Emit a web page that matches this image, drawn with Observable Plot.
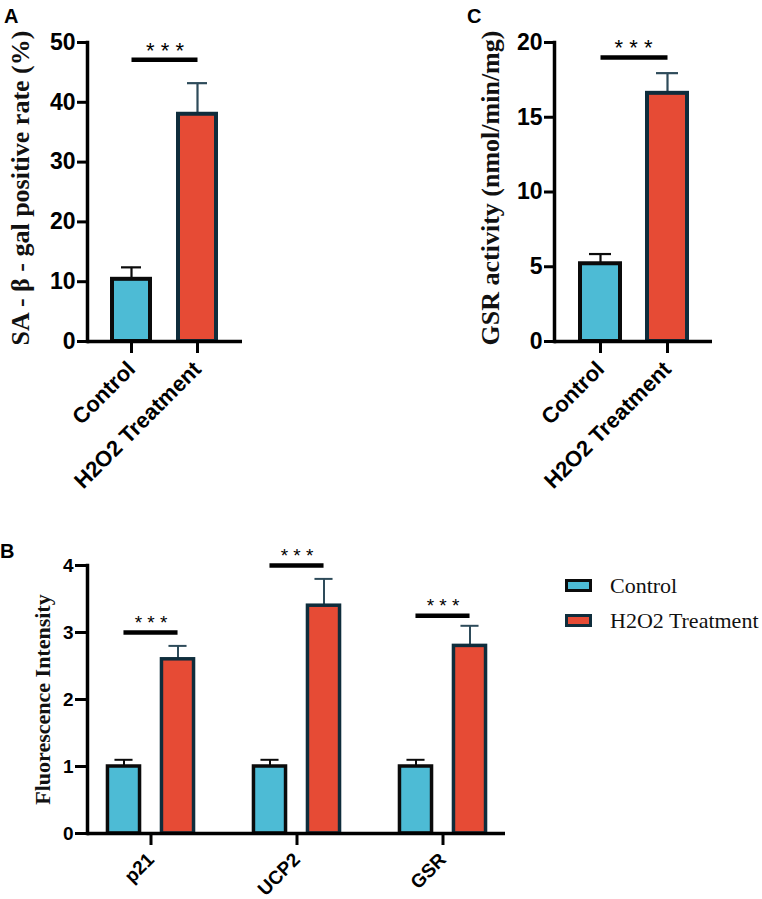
<!DOCTYPE html>
<html>
<head>
<meta charset="utf-8">
<script src="https://cdn.jsdelivr.net/npm/d3@7"></script>
<script src="https://cdn.jsdelivr.net/npm/@observablehq/plot@0.6"></script>
<style>
  body { margin: 0; background: #ffffff; }
  #fig { position: relative; width: 762px; height: 899px; overflow: hidden; background: #ffffff;
         font-family: "Liberation Sans", Arial, sans-serif; }
  .panel { position: absolute; }
  .panel svg { display: block; }
  #panelA { left: 0px; top: 0px; width: 260px; height: 505px; }
  #panelC { left: 440px; top: 0px; width: 300px; height: 505px; }
  #panelB { left: 0px; top: 505px; width: 540px; height: 394px; }
  .letter { position: absolute; font-weight: bold; font-size: 20px; line-height: 1; color: #000; }
  .legend { position: absolute; left: 565px; top: 568px; font-family: "Liberation Serif", "Times New Roman", serif;
            font-size: 22px; color: #111; }
  .legend .item { display: flex; align-items: center; height: 35px; }
  .legend .sw { width: 21px; height: 7px; border-style: solid; border-width: 3.5px; margin-right: 18px; }
</style>
</head>
<body>
<div id="fig">
  <div class="panel" id="panelA"></div>
  <div class="panel" id="panelC"></div>
  <div class="panel" id="panelB"></div>
  <div class="legend" id="legend"></div>
  <div class="letter" style="left:4px;top:6px;">A</div>
  <div class="letter" style="left:467px;top:6px;">C</div>
  <div class="letter" style="left:0px;top:541px;">B</div>
</div>
<script>
// ---- data ----------------------------------------------------------------
const groups = ["Control", "H2O2 Treatment"];

// A: SA-β-gal positive rate (%)
const saGalMean = [10.4, 38.0];
const saGalSd = [2.0, 5.2];
const saGalSig = 47.1;
const saGalTicks = [0, 10, 20, 30, 40, 50];

// C: GSR activity (nmol/min/mg)
const gsrMean = [5.2, 16.6];
const gsrSd = [0.65, 1.35];
const gsrSig = 19.0;
const gsrTicks = [0, 5, 10, 15, 20];

// B: relative fluorescence intensity per marker
const genes = ["p21", "UCP2", "GSR"];
const fluorControl = [1.0, 1.0, 1.0];
const fluorControlSd = [0.1, 0.1, 0.1];
const fluorH2O2 = [2.6, 3.4, 2.8];
const fluorH2O2Sd = [0.2, 0.4, 0.3];
const fluorSig = [3.0, 4.0, 3.25];
const fluorTicks = [0, 1, 2, 3, 4];

const sigLabel = "* * *";

// ---- styling -------------------------------------------------------------
const fills = ["#4DBBD5", "#E64B35"];
const outlines = ["#0b0b0b", "#0f2d3c"];
const whiskers = ["#0b0b0b", "#2e4b5a"];
const sans = "'Liberation Sans', Arial, sans-serif";
const serif = "'Liberation Serif', 'Times New Roman', serif";
const intFormat = d3.format("d");

function rowsFor(means, sds) {
  return groups.map((g, i) => ({group: g, k: i, mean: means[i], top: means[i] + sds[i]}));
}

// Two-bar panel (A and C)
function twoBarPanel({means, sds, sig, ticks, title, marginLeft, marginRight, width, titleDx, paddingInner, paddingOuter}) {
  const rows = rowsFor(means, sds);
  const sigRows = groups.map(g => ({group: g, y: sig}));
  return Plot.plot({
    width, height: 505,
    marginLeft, marginRight, marginTop: 42, marginBottom: 164,
    style: {fontFamily: sans, fontWeight: "bold", fontSize: "23px", color: "#000", background: "transparent"},
    x: {domain: groups, paddingInner, paddingOuter, label: null},
    y: {domain: [ticks[0], ticks[ticks.length - 1]], label: null},
    color: {type: "identity"},
    marks: [
      Plot.ruleX(rows, {x: "group", y1: "mean", y2: "top", stroke: d => whiskers[d.k], strokeWidth: 2.2}),
      Plot.tickY(rows, {x: "group", y: "top", stroke: d => whiskers[d.k], strokeWidth: 2.2, inset: 9}),
      Plot.barY(rows, {x: "group", y: "mean", fill: d => fills[d.k], stroke: d => outlines[d.k], strokeWidth: 4}),
      Plot.ruleY([0], {stroke: "#000", strokeWidth: 3.5}),
      Plot.frame({anchor: "left", stroke: "#000", strokeWidth: 3.5}),
      Plot.axisY({ticks, tickFormat: intFormat, tickSize: 10, tickPadding: 2, stroke: "#000", strokeWidth: 3, fontSize: 23, label: null}),
      Plot.axisX({tickSize: 12, tickPadding: 12, tickRotate: -45, stroke: "#000", strokeWidth: 3, fontSize: 22, label: null}),
      Plot.line(sigRows, {x: "group", y: "y", stroke: "#000", strokeWidth: 4.5, strokeLinecap: "butt"}),
      Plot.text([sig], {y: d => d, text: () => sigLabel, frameAnchor: "middle", dy: -9,
                        fontSize: 22, fontWeight: "normal", fill: "#000"}),
      Plot.text([title], {frameAnchor: "left", textAnchor: "middle", rotate: -90, dx: titleDx, dy: -4,
                          fontFamily: serif, fontWeight: "bold", fontSize: 26, fill: "#111"})
    ]
  });
}

document.getElementById("panelA").append(twoBarPanel({
  means: saGalMean, sds: saGalSd, sig: saGalSig, ticks: saGalTicks,
  title: "SA - β - gal positive rate (%)",
  width: 260, marginLeft: 87, marginRight: 18, titleDx: -67,
  paddingInner: 0.424, paddingOuter: 0.386
}));

document.getElementById("panelC").append(twoBarPanel({
  means: gsrMean, sds: gsrSd, sig: gsrSig, ticks: gsrTicks,
  title: "GSR activity (nmol/min/mg)",
  width: 300, marginLeft: 114, marginRight: 28, titleDx: -64,
  paddingInner: 0.41, paddingOuter: 0.367
}));

// ---- panel B: grouped bars on one band scale of markers -------------------
const layoutB = {width: 540, height: 394, marginLeft: 87, marginRight: 35, marginTop: 60, marginBottom: 66};
const bandPadInner = 0.2, bandPadOuter = 0.03;
// width of one marker band, so each series can sit at a fixed offset inside it
const bandW = (layoutB.width - layoutB.marginLeft - layoutB.marginRight)
  / (genes.length - bandPadInner + 2 * bandPadOuter) * (1 - bandPadInner);
const seriesOffset = [-27, 27];   // bar centre relative to the band centre
const barW = 32, capW = 18;
const insetsAt = (offset, w) => ({insetLeft: bandW / 2 + offset - w / 2, insetRight: bandW / 2 - offset - w / 2});

const seriesRows = [
  genes.map((gene, j) => ({gene, k: 0, mean: fluorControl[j], top: fluorControl[j] + fluorControlSd[j]})),
  genes.map((gene, j) => ({gene, k: 1, mean: fluorH2O2[j], top: fluorH2O2[j] + fluorH2O2Sd[j]}))
];
const sigB = genes.map((gene, j) => ({gene, y: fluorSig[j]}));

const seriesMarks = seriesRows.flatMap((rows, k) => [
  Plot.ruleX(rows, {x: "gene", y1: "mean", y2: "top", dx: seriesOffset[k], stroke: whiskers[k], strokeWidth: 2}),
  Plot.tickY(rows, {x: "gene", y: "top", stroke: whiskers[k], strokeWidth: 2, ...insetsAt(seriesOffset[k], capW)}),
  Plot.barY(rows, {x: "gene", y: "mean", fill: fills[k], stroke: outlines[k], strokeWidth: 3.5, ...insetsAt(seriesOffset[k], barW)})
]);

const panelB = Plot.plot({
  ...layoutB,
  style: {fontFamily: sans, fontWeight: "bold", fontSize: "19px", color: "#000", background: "transparent"},
  x: {domain: genes, paddingInner: bandPadInner, paddingOuter: bandPadOuter, label: null},
  y: {domain: [fluorTicks[0], fluorTicks[fluorTicks.length - 1]], label: null},
  marks: [
    ...seriesMarks,
    Plot.ruleY([0], {stroke: "#000", strokeWidth: 3.5}),
    Plot.frame({anchor: "left", stroke: "#000", strokeWidth: 3.5}),
    Plot.axisY({ticks: fluorTicks, tickFormat: intFormat, tickSize: 12, tickPadding: 2, stroke: "#000", strokeWidth: 3, fontSize: 19, label: null}),
    Plot.axisX({tickSize: 12, tickPadding: 11, tickRotate: -45, stroke: "#000", strokeWidth: 3, fontSize: 19, label: null}),
    // significance bar spans from the Control bar centre to the H2O2 bar centre
    Plot.tickY(sigB, {x: "gene", y: "y", stroke: "#000", strokeWidth: 4.5,
                      insetLeft: bandW / 2 + seriesOffset[0], insetRight: bandW / 2 - seriesOffset[1]}),
    Plot.text(sigB, {x: "gene", y: "y", text: () => sigLabel, dy: -10, fontSize: 19, fontWeight: "normal", fill: "#000"}),
    Plot.text(["Fluorescence Intensity"], {frameAnchor: "left", textAnchor: "middle", rotate: -90, dx: -45,
                                           fontFamily: serif, fontWeight: "bold", fontSize: 22, fill: "#111"})
  ]
});
document.getElementById("panelB").append(panelB);

// Legend built from the group names and their colours
const legend = document.getElementById("legend");
groups.forEach((g, i) => {
  const item = document.createElement("div");
  item.className = "item";
  const sw = document.createElement("span");
  sw.className = "sw";
  sw.style.background = fills[i];
  sw.style.borderColor = outlines[i];
  const label = document.createElement("span");
  label.textContent = g;
  item.append(sw, label);
  legend.append(item);
});
</script>
</body>
</html>
